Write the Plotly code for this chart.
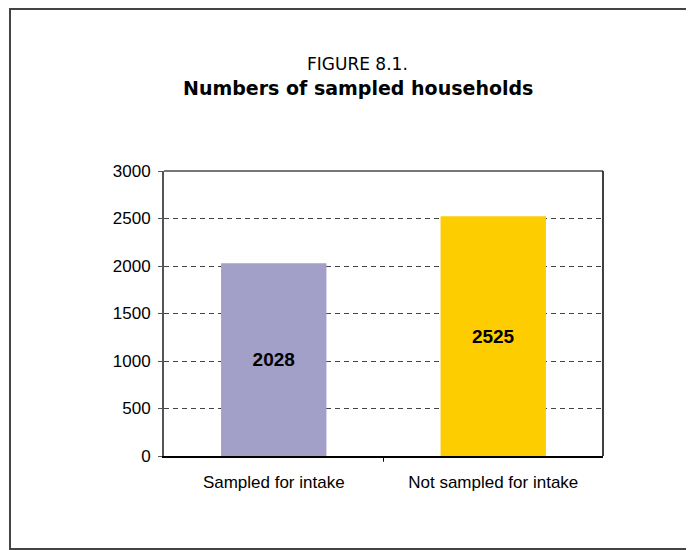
import plotly.graph_objects as go

# Data
categories = ['Sampled for intake', 'Not sampled for intake']
households = [2028, 2525]
bar_colors = ['#a29fc8', '#fdcd00']

fig = go.Figure()

fig.add_trace(go.Bar(
    x=categories,
    y=households,
    marker_color=bar_colors,
    marker_line_width=0,
    width=0.48,
    text=[str(v) for v in households],
    textposition='inside',
    insidetextanchor='middle',
    textangle=0,
    textfont=dict(family='Liberation Sans Narrow, Arial Narrow, Liberation Sans', size=19, color='black'),
    texttemplate='<b>%{text}</b>',
    hoverinfo='skip',
))

fig.update_yaxes(
    range=[0, 3000],
    tickvals=[0, 500, 1000, 1500, 2000, 2500, 3000],
    showgrid=True,
    gridcolor='#444',
    griddash='5px,4px',
    gridwidth=1,
    showline=True,
    linecolor='#555',
    linewidth=2,
    ticks='outside',
    ticklen=4,
    tickcolor='#555',
    tickfont=dict(family='Liberation Sans, Arial', size=17, color='black'),
    ticklabelstandoff=4,
    zeroline=False,
)
fig.update_xaxes(
    showline=True,
    linecolor='black',
    linewidth=2,
    tickfont=dict(family='Liberation Sans, Arial', size=17, color='black'),
    ticklabelstandoff=10,
)

# plot frame: top (gray) and right (black) borders
fig.add_shape(type='line', xref='paper', yref='paper', x0=0, x1=1, y0=1, y1=1,
              line=dict(color='#777', width=2))
fig.add_shape(type='line', xref='paper', yref='paper', x0=1, x1=1, y0=0, y1=1,
              line=dict(color='black', width=1.5))
# middle category tick
fig.add_shape(type='line', xref='paper', yref='paper', x0=0.5, x1=0.5, y0=0, y1=-0.02,
              line=dict(color='black', width=1))

# outer frame round the whole figure
fig.add_shape(type='rect', xref='paper', yref='paper',
              x0=-0.3508, x1=1.25, y0=-0.3263, y1=1.5684,
              line=dict(color='#444', width=2))

# title
fig.add_annotation(xref='paper', yref='paper', x=0.4419, y=1.3754, yanchor='middle',
                   text='FIGURE 8.1.', showarrow=False,
                   font=dict(family='DejaVu Sans', size=17, color='black'))
fig.add_annotation(xref='paper', yref='paper', x=0.4419, y=1.2912, yanchor='middle',
                   text='<b>Numbers of sampled households</b>', showarrow=False,
                   font=dict(family='DejaVu Sans', size=19, color='black'))

fig.update_layout(
    width=694, height=550,
    margin=dict(l=156, r=99, t=163, b=102),
    plot_bgcolor='white',
    paper_bgcolor='white',
    showlegend=False,
    bargap=0.52,
)

fig.write_html('out.html')
